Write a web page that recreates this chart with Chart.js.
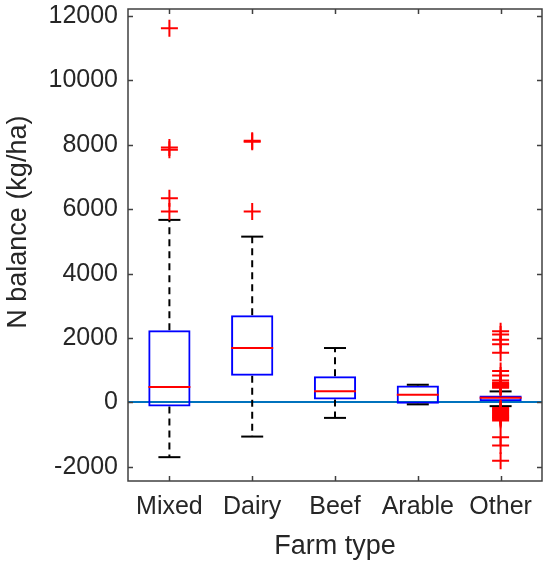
<!DOCTYPE html>
<html>
<head>
<meta charset="utf-8">
<script src="https://cdn.jsdelivr.net/npm/chart.js@4"></script>
<style>
  html, body { margin:0; padding:0; background:#fff; }
  #wrap { width:544px; height:566px; position:relative; }
</style>
</head>
<body>
<div id="wrap"><canvas id="c"></canvas></div>
<script>
(() => {
  "use strict";

  // farm types and box stats (kg/ha)
  const categories  = ["Mixed", "Dairy", "Beef", "Arable", "Other"];
  const whiskerLow  = [-1700, -1060, -480, -60, -115];
  const quart1      = [-125, 830, 95, -40, 40];
  const medians     = [480, 1690, 350, 240, 146];
  const quart3      = [2245, 2710, 810, 530, 218];
  const whiskerHigh = [5670, 5150, 1690, 550, 343];

  const outMixed  = [11620, 7920, 7850, 6340, 5930];
  const outDairy  = [8130, 8100, 5930];
  const outBeef   = [];
  const outArable = [];
  const outOther  = [2210, 2110, 1950, 1810, 1540, 975, 840, 685, 610, 580, 550, 520, 490, 455,
                     -170, -205, -240, -275, -310, -345, -380, -415, -450, -485, -520, -560,
                     -1080, -1340, -1810];

  const yTicks = [-2000, 0, 2000, 4000, 6000, 8000, 10000, 12000];
  const yMin = -2440, yMax = 12220;
  const yTitle = "N balance (kg/ha)";

  const ink = "#262626";
  const font = "'Liberation Sans', Arial, Helvetica, sans-serif";

  const outliers = [outMixed, outDairy, outBeef, outArable, outOther]
    .flatMap((arr, i) => arr.map(v => ({ x: categories[i], y: v })));

  const whiskers = categories.flatMap((c, i) => [
    { x:c, y:quart3[i] }, { x:c, y:whiskerHigh[i] }, { x:c, y:null },
    { x:c, y:quart1[i] }, { x:c, y:whiskerLow[i] },  { x:c, y:null }
  ]);

  const caps = categories.flatMap((c, i) => [
    { x:c, y:whiskerLow[i] }, { x:c, y:whiskerHigh[i] }
  ]);

  // MATLAB style frame: box round the plot, short ticks pointing inward,
  // y label sits a bit above the middle like in the original figure
  const framePlugin = {
    id: "frame",
    afterDraw(chart){
      const { ctx, chartArea: a, scales } = chart;
      const len = 5;
      ctx.save();
      ctx.strokeStyle = "#404040";
      ctx.lineWidth = 1.5;
      ctx.strokeRect(a.left, a.top, a.right - a.left, a.bottom - a.top);
      ctx.beginPath();
      scales.y.ticks.forEach((t, i) => {
        const py = Math.round(scales.y.getPixelForTick(i)) + 0.5;
        ctx.moveTo(a.left, py);  ctx.lineTo(a.left + len, py);
        ctx.moveTo(a.right, py); ctx.lineTo(a.right - len, py);
      });
      categories.forEach((c, i) => {
        const px = Math.round(scales.x.getPixelForValue(i)) + 0.5;
        ctx.moveTo(px, a.bottom); ctx.lineTo(px, a.bottom - len);
        ctx.moveTo(px, a.top);    ctx.lineTo(px, a.top + len);
      });
      ctx.stroke();

      ctx.translate(19, scales.y.getPixelForValue(5600));
      ctx.rotate(-Math.PI / 2);
      ctx.fillStyle = ink;
      ctx.font = `27px ${font}`;
      ctx.textAlign = "center";
      ctx.textBaseline = "middle";
      ctx.fillText(yTitle, 0, 0);
      ctx.restore();
    }
  };

  new Chart(document.getElementById("c"), {
    type: "bar",
    data: {
      labels: categories,
      datasets: [
        { type:"line", label:"outliers", data:outliers, showLine:false,
          pointStyle:"cross", pointRadius:8.5, borderColor:"#ff0000", borderWidth:2 },
        { type:"line", label:"median", data:medians, showLine:false,
          pointStyle:"line", pointRadius:21, borderColor:"#ff0000", borderWidth:2 },
        { type:"line", label:"caps", data:caps, showLine:false,
          pointStyle:"line", pointRadius:11, borderColor:"#000", borderWidth:2 },
        { type:"bar", label:"box", data:categories.map((c, i) => [quart1[i], quart3[i]]),
          backgroundColor:"rgba(0,0,0,0)", borderColor:"#0000ff", borderWidth:2,
          borderSkipped:false, categoryPercentage:1, barPercentage:0.51 },
        { type:"line", label:"whiskers", data:whiskers, spanGaps:false,
          pointRadius:0, borderColor:"#000", borderWidth:2, borderDash:[7,5] }
      ]
    },
    options: {
      responsive:true,
      maintainAspectRatio:false,
      animation:false,
      events:[],
      layout:{ autoPadding:false, padding:{ top:9, right:2, left:0, bottom:0 } },
      plugins:{ legend:{ display:false }, tooltip:{ enabled:false } },
      scales:{
        x:{
          grid:{ display:false, drawTicks:false },
          border:{ display:false },
          ticks:{ color:ink, padding:11, maxRotation:0, autoSkip:false, font:{ family:font, size:25 } },
          title:{ display:true, text:"Farm type", color:ink, padding:{ top:0, bottom:3 },
                  font:{ family:font, size:27 } },
          afterFit(s){ s.height = 85; s.paddingLeft = 0; s.paddingRight = 0; }
        },
        y:{
          min:yMin, max:yMax,
          afterBuildTicks(s){ s.ticks = yTicks.map(v => ({ value:v })); },
          grid:{ drawTicks:false, lineWidth:2,
                 color: c => (c.tick && c.tick.value === 0) ? "#0072bd" : "rgba(0,0,0,0)" },
          border:{ display:false },
          ticks:{ color:ink, padding:10, font:{ family:font, size:25 },
                  callback: v => String(v) },
          title:{ display:false },
          afterFit(s){ s.width = 128; s.paddingTop = 0; s.paddingBottom = 0; }
        }
      }
    },
    plugins:[framePlugin]
  });
})();
</script>
</body>
</html>
